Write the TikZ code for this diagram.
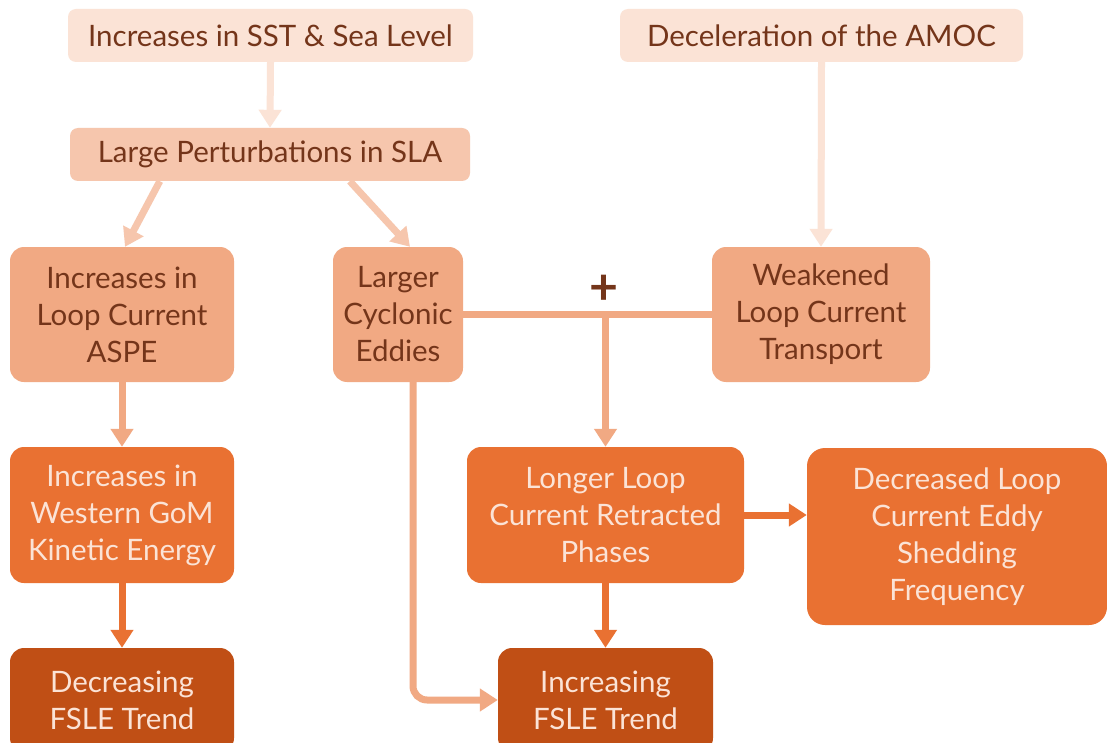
\documentclass[tikz,border=0pt]{standalone}
\usepackage{fontspec}
\setmainfont{Lato}
\usetikzlibrary{arrows.meta,calc}
\definecolor{cA}{HTML}{FBE3D6}
\definecolor{cB}{HTML}{F6C6AD}
\definecolor{cC}{HTML}{F1A983}
\definecolor{cD}{HTML}{E97132}
\definecolor{cE}{HTML}{C04F15}
\definecolor{tdark}{HTML}{74351A}
\definecolor{tlight}{HTML}{FBE3D6}
\tikzset{
  box/.style={rounded corners=14pt, align=center, inner sep=0pt,
    font=\fontsize{29.5}{37}\selectfont},
  lvA/.style={box, fill=cA, text=tdark, rounded corners=8pt},
  lvB/.style={box, fill=cB, text=tdark, rounded corners=8pt},
  lvC/.style={box, fill=cC, text=tdark},
  lvD/.style={box, fill=cD, text=tlight},
  lvE/.style={box, fill=cE, text=tlight},
  conn/.style={line width=7pt},
  arr/.style={conn, -{Triangle[width=22pt,length=18pt]}},
}
\begin{document}
\begin{tikzpicture}[x=1pt,y=-1pt]
\useasboundingbox (0,0) rectangle (1107,743);
\clip (0,0) rectangle (1107,743);
\fill[white] (0,0) rectangle (1107,743);
% nodes
\node[lvA, minimum width=405pt, minimum height=53pt] (t1) at (270.5,35.5) {Increases in SST \& Sea Level};
\node[lvA, minimum width=403pt, minimum height=53pt] (t2) at (821.5,35.5) {Deceleration of the AMOC};
\node[lvB, minimum width=400pt, minimum height=53pt] (lp) at (270,154.5) {Large Perturbations in SLA};
\node[lvC, minimum width=224pt, minimum height=135pt] (aspe) at (122,314.5) {Increases in\\Loop Current\\ASPE};
\node[lvC, minimum width=130pt, minimum height=135pt] (cyc) at (398,314.5) {Larger\\Cyclonic\\Eddies};
\node[lvC, minimum width=218pt, minimum height=135pt] (weak) at (821,314.5) {Weakened\\Loop Current\\Transport};
\node[lvD, minimum width=224pt, minimum height=136pt] (west) at (122,515) {Increases in\\Western GoM\\Kinetic Energy};
\node[lvD, minimum width=277pt, minimum height=136pt] (longer) at (605.5,515) {Longer Loop\\Current Retracted\\Phases};
\node[lvD, minimum width=300pt, minimum height=177pt, rounded corners=18pt] (dec) at (957,536.5) {Decreased Loop\\Current Eddy\\Shedding\\Frequency};
\node[lvE, minimum width=224pt, minimum height=104pt] (dfsle) at (122,700) {Decreasing\\FSLE Trend};
\node[lvE, minimum width=215pt, minimum height=104pt] (ifsle) at (605.5,700) {Increasing\\FSLE Trend};
\node[text=tdark, font=\fontsize{50}{50}\bfseries\selectfont, inner sep=0pt] (plus) at (604,290) {+};
% connectors
\draw[arr, color=cA] (t1.south) -- (lp.north);
\draw[arr, color=cA] (t2.south) -- (weak.north);
\draw[arr, color=cB] ($(lp.south west)+(90,0)$) -- ($(aspe.north)+(3,0)$);
\draw[arr, color=cB] ($(lp.south west)+(280,0)$) -- ($(cyc.north)+(12,0)$);
\draw[arr, color=cC] (aspe.south) -- (west.north);
\draw[arr, color=cD] (west.south) -- (dfsle.north);
\coordinate (j) at (longer.north |- cyc.east);
\draw[conn, color=cC] (cyc.east) -- (weak.west);
\draw[arr, color=cC] (j) -- (longer.north);
\draw[arr, color=cC, rounded corners=14pt] ($(cyc.south)+(15,0)$) |- (ifsle.west);
\draw[arr, color=cD] (longer.south) -- (ifsle.north);
\draw[arr, color=cD] (longer.east) -- (longer.east -| dec.west);
\end{tikzpicture}
\end{document}
